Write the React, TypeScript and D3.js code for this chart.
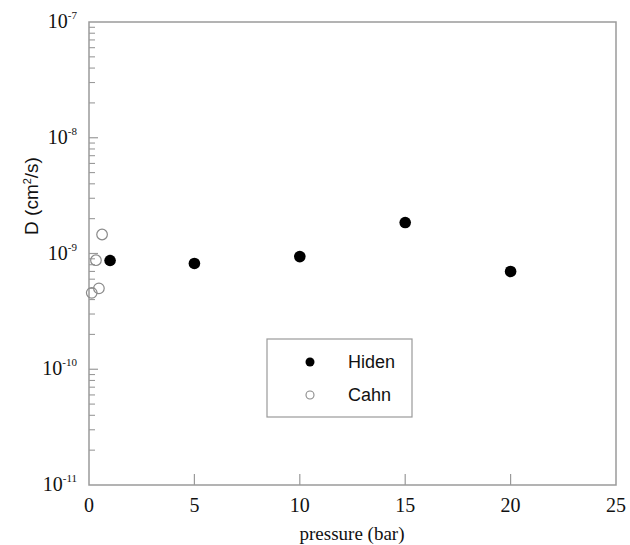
import React from "react";
import * as d3 from "d3";

// Diffusion coefficient vs. pressure
const hidenPressure = [1, 5, 10, 15, 20];
const hidenD = [8.7e-10, 8.2e-10, 9.4e-10, 1.85e-9, 7.0e-10];

const cahnPressure = [0.62, 0.33, 0.47, 0.13];
const cahnD = [1.46e-9, 8.75e-10, 5.0e-10, 4.57e-10];

const xTicks = [0, 5, 10, 15, 20, 25];
const yDecades = [-11, -10, -9, -8, -7];

const W = 630;
const H = 545;
const left = 89;
const right = 616;
const top = 22;
const bottom = 485;
const axisColor = "#9a9a9a";
const serif = "'Liberation Serif', 'Times New Roman', serif";
const sans = "'Liberation Sans', Arial, sans-serif";

export default function App() {
  const x = d3.scaleLinear().domain([0, 25]).range([left, right]);
  const y = d3.scaleLog().domain([1e-11, 1e-7]).range([bottom, top]);

  // minor ticks 2..9 in each decade
  const minor: number[] = [];
  for (let e = -11; e < -7; e++) {
    for (let m = 2; m <= 9; m++) minor.push(m * Math.pow(10, e));
  }

  return (
    <svg
      width={W}
      height={H}
      style={{ position: "absolute", left: 0, top: 0, background: "#fff" }}
    >
      <rect x={0} y={0} width={W} height={H} fill="#fff" />
      {/* frame */}
      <rect
        x={left}
        y={top}
        width={right - left}
        height={bottom - top}
        fill="none"
        stroke={axisColor}
        strokeWidth={1.5}
      />
      {/* x ticks */}
      {xTicks.map((t) => (
        <g key={"xt" + t}>
          {t > 0 && t < 25 && (
            <line
              x1={x(t)}
              x2={x(t)}
              y1={bottom}
              y2={bottom - 11}
              stroke={axisColor}
              strokeWidth={1.2}
            />
          )}
          <text
            x={x(t)}
            y={512}
            textAnchor="middle"
            fontFamily={serif}
            fontSize={20}
            fill="#111"
          >
            {t}
          </text>
        </g>
      ))}
      {/* y minor ticks */}
      {minor.map((v, i) => (
        <line
          key={"ym" + i}
          x1={left}
          x2={left + 6}
          y1={y(v)}
          y2={y(v)}
          stroke={axisColor}
          strokeWidth={1.1}
        />
      ))}
      {/* y decade ticks and labels */}
      {yDecades.map((e) => {
        const v = Math.pow(10, e);
        return (
          <g key={"yd" + e}>
            {e > -11 && e < -7 && (
              <line
                x1={left}
                x2={left + 9}
                y1={y(v)}
                y2={y(v)}
                stroke={axisColor}
                strokeWidth={1.2}
              />
            )}
            <text
              x={77}
              y={y(v) + 6}
              textAnchor="end"
              fontFamily={serif}
              fontSize={20}
              fill="#111"
            >
              10
              <tspan dy={-9} fontSize={11}>
                {String(e)}
              </tspan>
            </text>
          </g>
        );
      })}
      {/* axis titles */}
      <text
        x={352}
        y={540}
        textAnchor="middle"
        fontFamily={serif}
        fontSize={19}
        fill="#111"
      >
        pressure (bar)
      </text>
      <text
        transform={`translate(38,196) rotate(-90)`}
        textAnchor="middle"
        fontFamily={sans}
        fontSize={19}
        fill="#111"
      >
        D (cm
        <tspan dy={-7} fontSize={11}>
          2
        </tspan>
        <tspan dy={7}>/s)</tspan>
      </text>
      {/* Cahn: open circles */}
      {cahnPressure.map((p, i) => (
        <circle
          key={"c" + i}
          cx={x(p)}
          cy={y(cahnD[i])}
          r={5.3}
          fill="none"
          stroke="#8a8a8a"
          strokeWidth={1.2}
        />
      ))}
      {/* Hiden: filled circles */}
      {hidenPressure.map((p, i) => (
        <circle
          key={"h" + i}
          cx={x(p)}
          cy={y(hidenD[i])}
          r={5.8}
          fill="#000"
        />
      ))}
      {/* legend */}
      <rect
        x={267}
        y={339}
        width={145}
        height={78}
        fill="#fff"
        stroke={axisColor}
        strokeWidth={1.2}
      />
      <circle cx={310} cy={362} r={4.5} fill="#000" />
      <text x={348} y={368} fontFamily={sans} fontSize={18} fill="#111">
        Hiden
      </text>
      <circle
        cx={310}
        cy={395}
        r={4}
        fill="none"
        stroke="#8a8a8a"
        strokeWidth={1.1}
      />
      <text x={348} y={401} fontFamily={sans} fontSize={18} fill="#111">
        Cahn
      </text>
    </svg>
  );
}
